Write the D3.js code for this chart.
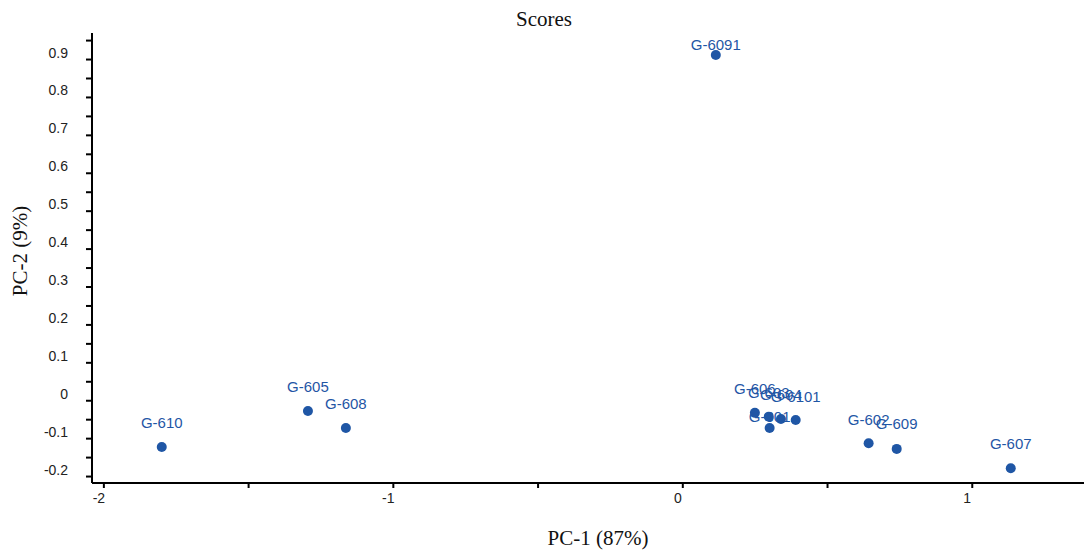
<!DOCTYPE html>
<html>
<head>
<meta charset="utf-8">
<script src="https://cdn.jsdelivr.net/npm/d3@7"></script>
<style>
  html, body { margin: 0; padding: 0; background: #fff; }
  svg { display: block; }
</style>
</head>
<body>
<svg id="chart" width="1084" height="550"></svg>
<script>
// ---- data ----
const names = ["G-610", "G-605", "G-608", "G-6091", "G-606", "G-603", "G-604", "G-6101", "G-601", "G-602", "G-609", "G-607"];
const pc1   = [-1.800, -1.295, -1.164, 0.114, 0.249, 0.297, 0.339, 0.390, 0.300, 0.642, 0.739, 1.133];
const pc2   = [-0.122, -0.027, -0.072, 0.912, -0.032, -0.042, -0.048, -0.051, -0.072, -0.112, -0.127, -0.178];
const xTickLabels = [-2, -1, 0, 1];
const yTickLabels = [-0.2, -0.1, 0, 0.1, 0.2, 0.3, 0.4, 0.5, 0.6, 0.7, 0.8, 0.9];
const title = "Scores";
const xTitle = "PC-1 (87%)";
const yTitle = "PC-2 (9%)";

// ---- layout (label placement offsets, px) ----
const labelDy = [-19, -19, -19, -5, -19, -19, -19, -18, -6, -18, -20, -19];

const W = 1084, H = 550;
const L = 92, R = 1084, T = 33, B = 483;
const blue = "#1f56a5";
const svg = d3.select("#chart");

const x = d3.scaleLinear().domain([-2.041, 1.386]).range([L, R]);
const y = d3.scaleLinear().domain([-0.217, 0.970]).range([B, T]);

const fmtX = d => String(d);
const fmtY = d => d === 0 ? "0" : d.toFixed(1);

// x axis
const xMinor = d3.range(-2, 1.5001, 0.5).filter(v => x(v) <= R);
const xg = svg.append("g").attr("transform", `translate(0,${B})`);
xg.append("line").attr("x1", L).attr("x2", R).attr("stroke", "#000").attr("stroke-width", 2);
xg.selectAll("line.t").data(xMinor).join("line").attr("class", "t")
  .attr("x1", d => x(d)).attr("x2", d => x(d)).attr("y1", 0).attr("y2", 5)
  .attr("stroke", "#000").attr("stroke-width", 2);
xg.selectAll("text").data(xTickLabels).join("text")
  .attr("x", d => x(d) - 5).attr("y", 20)
  .attr("text-anchor", "middle")
  .attr("font-family", "Liberation Sans, Arial, sans-serif").attr("font-size", 14)
  .attr("fill", "#222")
  .text(fmtX);

// y axis
const yMinor = d3.range(-0.2, 0.9501, 0.05);
const yg = svg.append("g").attr("transform", `translate(${L},0)`);
yg.append("line").attr("y1", T).attr("y2", B).attr("stroke", "#000").attr("stroke-width", 2);
yg.selectAll("line.t").data(yMinor).join("line").attr("class", "t")
  .attr("x1", -6).attr("x2", 0).attr("y1", d => y(d)).attr("y2", d => y(d))
  .attr("stroke", "#000").attr("stroke-width", 2);
yg.selectAll("text").data(yTickLabels).join("text")
  .attr("x", -24).attr("y", d => y(d) - 2)
  .attr("text-anchor", "end")
  .attr("font-family", "Liberation Sans, Arial, sans-serif").attr("font-size", 14)
  .attr("fill", "#222")
  .text(fmtY);

// titles
svg.append("text").attr("x", 544).attr("y", 26).attr("text-anchor", "middle")
  .attr("font-family", "Liberation Serif, Times New Roman, serif").attr("font-size", 21)
  .attr("fill", "#111").text(title);
svg.append("text").attr("x", 598).attr("y", 545).attr("text-anchor", "middle")
  .attr("font-family", "Liberation Serif, Times New Roman, serif").attr("font-size", 21)
  .attr("fill", "#111").text(xTitle);
svg.append("text").attr("transform", `translate(27,251) rotate(-90)`).attr("text-anchor", "middle")
  .attr("font-family", "Liberation Serif, Times New Roman, serif").attr("font-size", 21)
  .attr("fill", "#111").text(yTitle);

// data
const pts = names.map((n, i) => ({ name: n, x: pc1[i], y: pc2[i], dy: labelDy[i] }));
svg.append("g").selectAll("text").data(pts).join("text")
  .attr("x", d => x(d.x)).attr("y", d => y(d.y) + d.dy)
  .attr("text-anchor", "middle")
  .attr("font-family", "Liberation Sans, Arial, sans-serif").attr("font-size", 15)
  .attr("fill", blue).text(d => d.name);
svg.append("g").selectAll("circle").data(pts).join("circle")
  .attr("cx", d => x(d.x)).attr("cy", d => y(d.y)).attr("r", 5)
  .attr("fill", blue);
</script>
</body>
</html>
